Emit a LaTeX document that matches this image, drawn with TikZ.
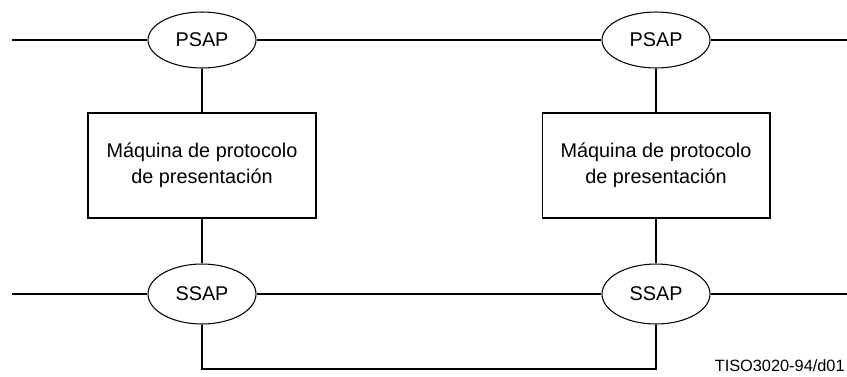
\documentclass[tikz,border=0pt]{standalone}
\usepackage{fontspec}
\setmainfont{Liberation Sans}
\usetikzlibrary{shapes.geometric}
\tikzset{x=0.02cm,y=-0.02cm}
\tikzstyle{sap}=[ellipse,draw,line width=0.6pt,inner sep=0pt,minimum width=2.16cm,minimum height=1.12cm,font=\fontsize{11.3}{13}\selectfont]
\tikzstyle{machine}=[rectangle,draw,line width=0.6pt,minimum width=4.56cm,minimum height=2.1cm,align=center,font=\fontsize{11.3}{15}\selectfont]
\tikzstyle{bus}=[line width=1.1pt]
\tikzstyle{link}=[line width=0.6pt]

\begin{document}
\begin{tikzpicture}
  \useasboundingbox (0,0) rectangle (847,376);
  % upper service access points
  \node[sap] (psapA) at (202,40) {PSAP};
  \node[sap] (psapB) at (656,40) {PSAP};
  % protocol machines
  \node[machine] (pmA) at (202,165.5) {Máquina de protocolo\\de presentación};
  \node[machine] (pmB) at (656,165.5) {Máquina de protocolo\\de presentación};
  % lower service access points
  \node[sap,minimum height=1.2cm] (ssapA) at (202,294) {SSAP};
  \node[sap,minimum height=1.2cm] (ssapB) at (656,294) {SSAP};
  \coordinate (topL) at (12,40);
  \coordinate (topR) at (847,40);
  \coordinate (botL) at (12,294);
  \coordinate (botR) at (847,294);
  \coordinate (loop) at (202,369);
  \draw[bus] (topL) -- (psapA.west) (psapA.east) -- (psapB.west) (psapB.east) -- (topR);
  \draw[bus] (botL) -- (ssapA.west) (ssapA.east) -- (ssapB.west) (ssapB.east) -- (botR);
  \draw[link] (psapA) -- (pmA) -- (ssapA);
  \draw[link] (psapB) -- (pmB) -- (ssapB);
  \draw[link] (ssapA.south) -- (loop) -| (ssapB.south);
  \node[anchor=east,inner sep=0pt,font=\fontsize{9.3}{11}\selectfont] (tag) at (845,366) {TISO3020-94/d01};
\end{tikzpicture}
\end{document}
